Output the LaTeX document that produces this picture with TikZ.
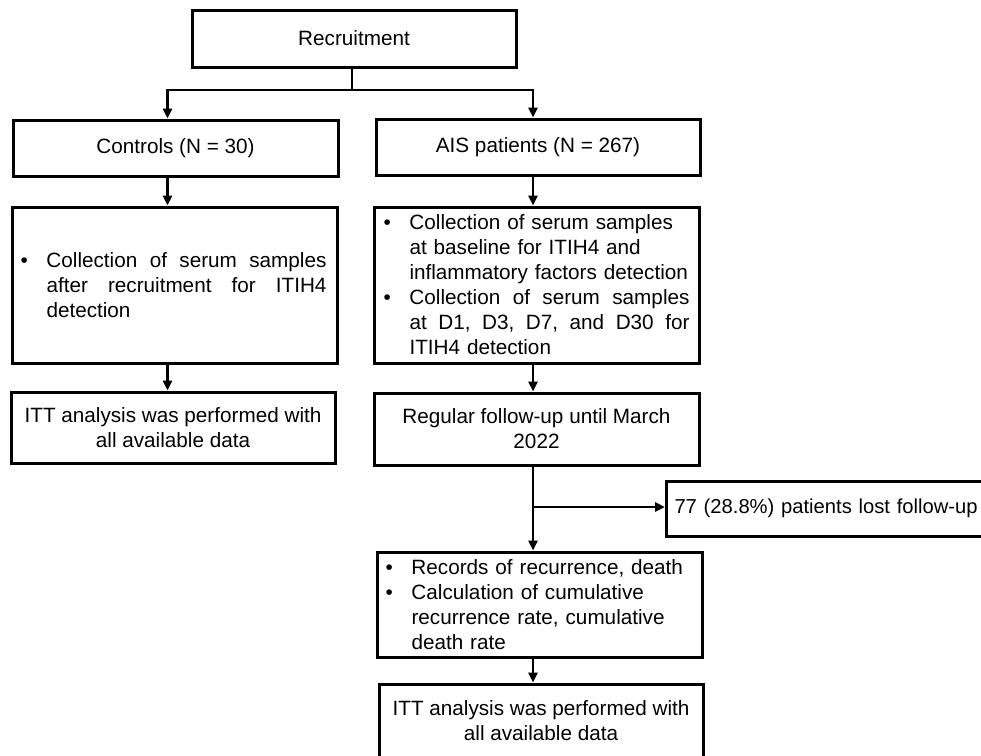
\documentclass[tikz,border=0pt]{standalone}
\usepackage{fontspec}
\setmainfont{Liberation Sans}
\usetikzlibrary{arrows.meta}
\newcommand\bl{\makebox[26pt][l]{\textbullet}}
\newcommand\ind{\hspace*{26pt}}
\newcommand\jline[1]{\hbox to 280pt{#1}}
\begin{document}
\begin{tikzpicture}[x=1pt,y=-1pt,
  box/.style={draw, line width=3pt, inner sep=0pt, font=\fontsize{20.7}{25}\selectfont},
  cbox/.style={box, align=center},
  bbox/.style={box, align=left, inner xsep=8.5pt, text width=308pt},
  arr/.style={line width=2.6pt, -{Triangle[length=10pt,width=9pt]}},
  ln/.style={line width=2.6pt}]
\useasboundingbox (0,0) rectangle (981,755);
\clip (0,0) rectangle (981,755);

% boxes
\node[cbox, minimum width=324pt, minimum height=57pt] (rec) at (354,38.5) {Recruitment};
\node[cbox, minimum width=325pt, minimum height=56pt] (ctrl) at (175.5,148) {Controls (N = 30)};
\node[cbox, minimum width=324pt, minimum height=56pt] (ais) at (538,147) {AIS patients (N = 267)};

\node[bbox, minimum height=156pt] (serL) at (174.5,285) {%
\bl\jline{Collection\hfill of\hfill serum\hfill samples}\\
\ind\jline{after\hfill recruitment\hfill for\hfill ITIH4}\\
\ind detection};

\node[bbox, inner xsep=9.5pt, text width=306pt, minimum height=156pt] (serR) at (536.5,285) {%
\bl Collection of serum samples\\
\ind at baseline for ITIH4 and\\
\ind inflammatory factors detection\\
\bl\jline{Collection\hfill of\hfill serum\hfill samples}\\
\ind\jline{at\hfill D1,\hfill D3,\hfill D7,\hfill and\hfill D30\hfill for}\\
\ind ITIH4 detection};

\node[cbox, minimum width=324pt, minimum height=71pt] (ittL) at (173,427.5) {ITT analysis was performed with\\all available data};
\node[cbox, minimum width=325pt, minimum height=72pt] (reg) at (536.5,429) {Regular follow-up until March\\2022};

\node[box, anchor=west, align=left, inner xsep=8pt, text width=320pt, minimum height=55pt,
      font=\fontsize{20.2}{25}\selectfont] (lost) at (665,508.5) {77 (28.8\%) patients lost follow-up};

\node[bbox, minimum height=105pt] (recs) at (539.5,604.5) {%
\bl Records of recurrence, death\\
\bl Calculation of cumulative\\
\ind recurrence rate, cumulative\\
\ind death rate};

\node[cbox, minimum width=324pt, minimum height=74pt] (ittB) at (541,721) {ITT analysis was performed with\\all available data};

% connector helper coordinates
\coordinate (jr) at (352,90);
\coordinate (cL) at (167.5,90);
\coordinate (cR) at (533,90);
\coordinate (br) at (533,507);

% connectors
\draw[ln] (rec.south -| jr) -- (jr);
\draw[arr] (jr) -- (cL) -- (cL |- ctrl.north);
\draw[arr] (jr) -- (cR) -- (cR |- ais.north);
\draw[arr] (ctrl.south -| cL) -- (serL.north -| cL);
\draw[arr] (ais.south -| cR) -- (serR.north -| cR);
\draw[arr] (serL.south -| cL) -- (ittL.north -| cL);
\draw[arr] (serR.south -| cR) -- (reg.north -| cR);
\draw[arr] (reg.south -| cR) -- (recs.north -| cR);
\draw[arr] (br) -- (br -| lost.west);
\draw[arr] (recs.south -| cR) -- (ittB.north -| cR);
\end{tikzpicture}
\end{document}
